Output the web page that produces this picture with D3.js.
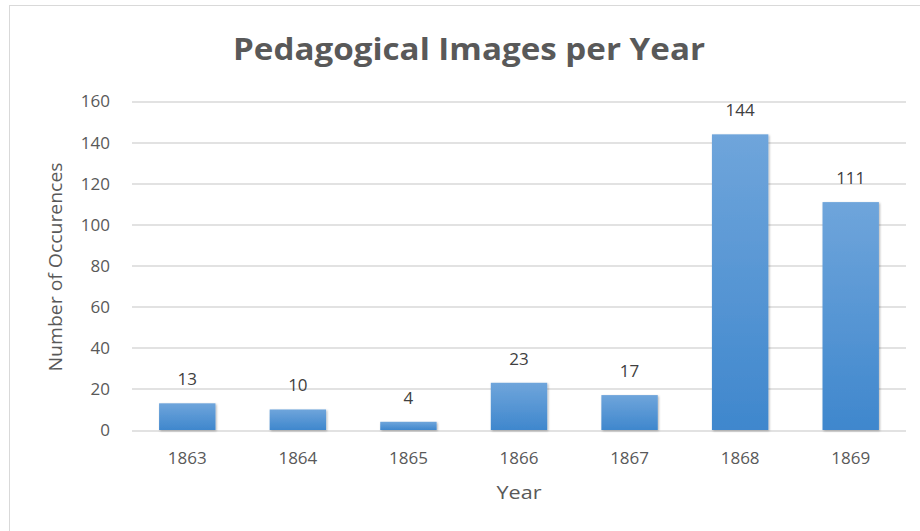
<!DOCTYPE html>
<html>
<head>
<meta charset="utf-8">
<script src="https://cdn.jsdelivr.net/npm/d3@7"></script>
<style>
    html, body { margin: 0; padding: 0; background: #fff; }
    text { font-family: 'Open Sans', sans-serif; }
</style>
</head>
<body>
<div class="vis-chart"></div>
<script>
const years = ['1863', '1864', '1865', '1866', '1867', '1868', '1869'];
const counts = [13, 10, 4, 23, 17, 144, 111];
const yTicks = [0, 20, 40, 60, 80, 100, 120, 140, 160];

const draw = (outerWidth, outerHeight) => {
    const margin = {top: 101.5, right: 14, bottom: 101, left: 132};
    const width = outerWidth - margin.left - margin.right;
    const height = outerHeight - margin.top - margin.bottom;

    const root = d3.select('.vis-chart').append('svg')
        .attr('width', outerWidth)
        .attr('height', outerHeight);

    // gradient + soft shadow for the bars
    const defs = root.append('defs');
    const grad = defs.append('linearGradient')
        .attr('id', 'barGrad')
        .attr('x1', 0).attr('y1', 0).attr('x2', 0).attr('y2', 1);
    grad.append('stop').attr('offset', '0%').attr('stop-color', '#6fa5db');
    grad.append('stop').attr('offset', '100%').attr('stop-color', '#3f87cd');
    const shadow = defs.append('filter').attr('id', 'shadow')
        .attr('x', '-20%').attr('y', '-20%').attr('width', '140%').attr('height', '140%');
    shadow.append('feDropShadow')
        .attr('dx', 1).attr('dy', 1).attr('stdDeviation', 1.2)
        .attr('flood-color', '#000').attr('flood-opacity', 0.3);

    // chart border (right/bottom run off the page)
    root.append('rect')
        .attr('x', 9.5).attr('y', 5.5)
        .attr('width', 940).attr('height', 560)
        .attr('fill', '#fff')
        .attr('stroke', '#d9d9d9');

    // title
    root.append('text')
        .attr('x', 469).attr('y', 60)
        .attr('text-anchor', 'middle')
        .attr('font-size', 31)
        .attr('font-weight', 700)
        .attr('fill', '#595959')
        .attr('textLength', 472)
        .attr('lengthAdjust', 'spacingAndGlyphs')
        .text('Pedagogical Images per Year');

    const svg = root.append('g')
        .attr('transform', 'translate(' + margin.left + ',' + margin.top + ')');

    const x = d3.scaleBand()
        .domain(years)
        .range([0, width])
        .paddingInner(0.49)
        .paddingOuter(0.245);
    const y = d3.scaleLinear()
        .domain([0, 160])
        .range([height, 0]);

    // gridlines
    svg.append('g')
        .selectAll('line')
        .data(yTicks)
        .enter().append('line')
        .attr('x1', 0).attr('x2', width)
        .attr('y1', d => Math.round(y(d)) + 0.5)
        .attr('y2', d => Math.round(y(d)) + 0.5)
        .attr('stroke', '#d9d9d9')
        .attr('stroke-width', 1.3);

    // y axis
    const yAxis = svg.append('g')
        .attr('transform', 'translate(-22,0)')
        .call(d3.axisLeft(y).tickValues(yTicks).tickSize(0).tickPadding(0));
    yAxis.select('.domain').remove();
    yAxis.selectAll('text')
        .attr('font-size', 17)
        .attr('fill', '#595959')
        .attr('font-family', "'Open Sans', sans-serif");

    // x axis
    const xAxis = svg.append('g')
        .attr('transform', 'translate(0,' + height + ')')
        .call(d3.axisBottom(x).tickSize(0).tickPadding(0));
    xAxis.select('.domain').remove();
    xAxis.selectAll('text')
        .attr('dy', null)
        .attr('y', 34)
        .attr('font-size', 17)
        .attr('fill', '#595959')
        .attr('font-family', "'Open Sans', sans-serif");

    // bars
    const dataset = years.map((yr, i) => ({label: yr, count: counts[i]}));
    svg.selectAll('.bar')
        .data(dataset)
        .enter().append('rect')
        .attr('class', 'bar')
        .attr('x', d => x(d.label))
        .attr('width', x.bandwidth())
        .attr('y', d => y(d.count))
        .attr('height', d => height - y(d.count))
        .attr('fill', 'url(#barGrad)')
        .attr('filter', 'url(#shadow)');

    // data labels
    svg.selectAll('.label')
        .data(dataset)
        .enter().append('text')
        .attr('class', 'label')
        .attr('x', d => x(d.label) + x.bandwidth() / 2)
        .attr('y', d => y(d.count) - 18)
        .attr('text-anchor', 'middle')
        .attr('font-size', 17)
        .attr('fill', '#404040')
        .text(d => d.count);

    // axis titles
    root.append('text')
        .attr('x', 519).attr('y', 499)
        .attr('text-anchor', 'middle')
        .attr('font-size', 19)
        .attr('fill', '#595959')
        .attr('textLength', 45)
        .attr('lengthAdjust', 'spacingAndGlyphs')
        .text('Year');

    root.append('text')
        .attr('transform', 'translate(62,267) rotate(-90)')
        .attr('text-anchor', 'middle')
        .attr('font-size', 18.5)
        .attr('fill', '#595959')
        .attr('textLength', 209)
        .attr('lengthAdjust', 'spacingAndGlyphs')
        .text('Number of Occurences');
};

draw(920, 531);
</script>
</body>
</html>
